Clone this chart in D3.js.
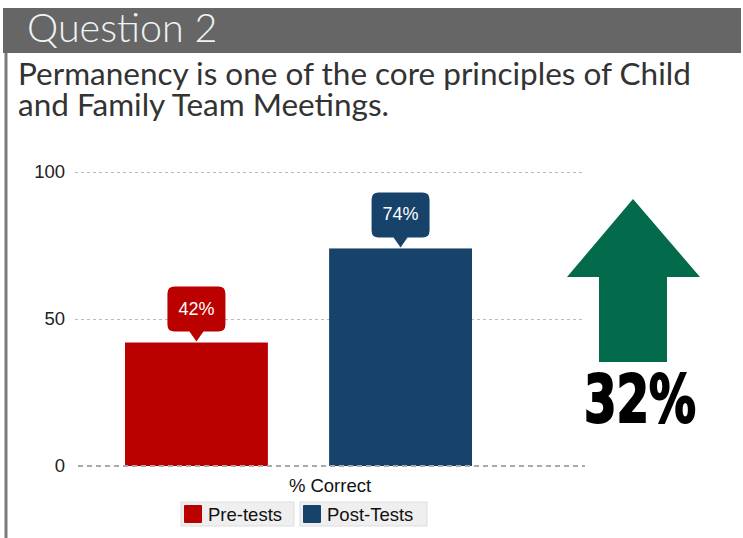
<!DOCTYPE html>
<html>
<head>
<meta charset="utf-8">
<script src="https://cdn.jsdelivr.net/npm/d3@7"></script>
<style>
  body { margin: 0; background: #fff; }
  svg { display: block; }
  .tick text { font-family: Arial, "Liberation Sans", sans-serif; font-size: 18.5px; fill: #222; }
</style>
</head>
<body>
<svg width="743" height="538"></svg>
<script>
"use strict"

// chart data
let title = "Question 2"
let questionLines = ["Permanency is one of the core principles of Child", "and Family Team Meetings."]
let category = "% Correct"
let series = ["Pre-tests", "Post-Tests"]
let values = [42, 74]
let colors = ["#bb0000", "#17436b"]
let yTicks = [0, 50, 100]
let change = "32%"

let svg = d3.select("svg"),
    width = +svg.attr("width"),
    height = +svg.attr("height")

let sans = "Arial, 'Liberation Sans', sans-serif"

// header band
svg.append("rect")
  .attr("x", 3).attr("y", 8)
  .attr("width", 738).attr("height", 45)
  .attr("fill", "#666666")

svg.append("text")
  .attr("x", 27).attr("y", 42)
  .attr("font-family", "Lato, sans-serif")
  .attr("font-weight", 300)
  .attr("font-size", 39.5)
  .attr("fill", "#eef3f3")
  .text(title)

// left rule of the slide body
svg.append("line")
  .attr("x1", 6).attr("x2", 6)
  .attr("y1", 53).attr("y2", height)
  .attr("stroke", "#7a7a7a").attr("stroke-width", 3)

// question text as one block, one tspan per line
svg.append("text")
    .attr("font-family", "Lato, sans-serif")
    .attr("font-size", 31.5)
    .attr("fill", "#333")
  .selectAll("tspan")
  .data(questionLines)
  .enter().append("tspan")
    .attr("x", 18)
    .attr("y", (d, i) => 85 + i * 31)
    .text(d => d)

// scales
let y = d3.scaleLinear().domain([0, 100]).range([466, 172])
let x = d3.scaleBand().domain(series).range([125, 472]).paddingInner(0.3)
let color = d3.scaleOrdinal().domain(series).range(colors)

// gridlines + tick labels
let yAxis = svg.append("g")
  .attr("transform", "translate(75,0)")
  .call(d3.axisLeft(y).tickValues(yTicks).tickSize(-510).tickPadding(10).tickFormat(d3.format("d")))
yAxis.select(".domain").remove()
yAxis.selectAll(".tick line")
  .attr("stroke", "#bbb")
  .attr("stroke-dasharray", "3,3")
yAxis.selectAll(".tick").filter(d => d === 0).select("line").remove()

// bars
let rows = series.map((s, i) => ({name: s, value: values[i]}))

svg.append("g").selectAll("rect")
  .data(rows)
  .enter().append("rect")
    .attr("x", d => x(d.name))
    .attr("y", d => y(d.value))
    .attr("width", x.bandwidth())
    .attr("height", d => y(0) - y(d.value))
    .attr("fill", d => color(d.name))

// zero line drawn over the bars
svg.append("line")
  .attr("x1", 78).attr("x2", 585)
  .attr("y1", y(0)).attr("y2", y(0))
  .attr("stroke", "#aaa").attr("stroke-width", 2)
  .attr("stroke-dasharray", "5,4")

// callout labels
function callout(cx, tip) {
  let w = 58, h = 45, r = 7, pw = 7, ph = 10
  let l = cx - w / 2, rt = cx + w / 2, b = tip - ph, t = b - h
  return "M" + (l + r) + "," + t
    + "H" + (rt - r) + "Q" + rt + "," + t + " " + rt + "," + (t + r)
    + "V" + (b - r) + "Q" + rt + "," + b + " " + (rt - r) + "," + b
    + "H" + (cx + pw) + "L" + cx + "," + tip + "L" + (cx - pw) + "," + b
    + "H" + (l + r) + "Q" + l + "," + b + " " + l + "," + (b - r)
    + "V" + (t + r) + "Q" + l + "," + t + " " + (l + r) + "," + t + "Z"
}

let labels = svg.append("g").selectAll("g")
  .data(rows)
  .enter().append("g")

labels.append("path")
  .attr("d", d => callout(x(d.name) + x.bandwidth() / 2, y(d.value) - 1))
  .attr("fill", d => color(d.name))

labels.append("text")
  .attr("x", d => x(d.name) + x.bandwidth() / 2)
  .attr("y", d => y(d.value) - 28)
  .attr("text-anchor", "middle")
  .attr("font-family", sans)
  .attr("font-size", 18)
  .attr("fill", "#fff")
  .text(d => d.value + "%")

// category label, centred on the plot area
svg.append("text")
  .attr("x", 330)
  .attr("y", 492)
  .attr("text-anchor", "middle")
  .attr("font-family", sans)
  .attr("font-size", 18.5)
  .attr("fill", "#111")
  .text(category)

// legend
let legendX = [181, 300], legendW = [113, 127]
let legend = svg.append("g").selectAll("g")
  .data(series)
  .enter().append("g")
    .attr("transform", (d, i) => "translate(" + legendX[i] + ",502)")

legend.append("rect")
  .attr("width", (d, i) => legendW[i]).attr("height", 24)
  .attr("fill", "#efefef").attr("stroke", "#dddddd")

legend.append("rect")
  .attr("x", 3).attr("y", 3)
  .attr("width", 18).attr("height", 18).attr("rx", 1)
  .attr("fill", d => color(d))

legend.append("text")
  .attr("x", 27).attr("y", 19)
  .attr("font-family", sans)
  .attr("font-size", 18.5)
  .attr("fill", "#111")
  .text(d => d)

// improvement arrow
svg.append("path")
  .attr("d", "M633,199L700,277H667V362H599V277H567Z")
  .attr("fill", "#046a4c")

svg.append("text")
  .attr("x", 584).attr("y", 422)
  .attr("textLength", 112)
  .attr("lengthAdjust", "spacingAndGlyphs")
  .attr("font-family", "'Liberation Sans Narrow', 'DejaVu Sans Condensed', Arial, sans-serif")
  .attr("font-weight", "bold")
  .attr("font-size", 65)
  .attr("fill", "#000")
  .attr("stroke", "#000")
  .attr("stroke-width", 2)
  .text(change)
</script>
</body>
</html>
